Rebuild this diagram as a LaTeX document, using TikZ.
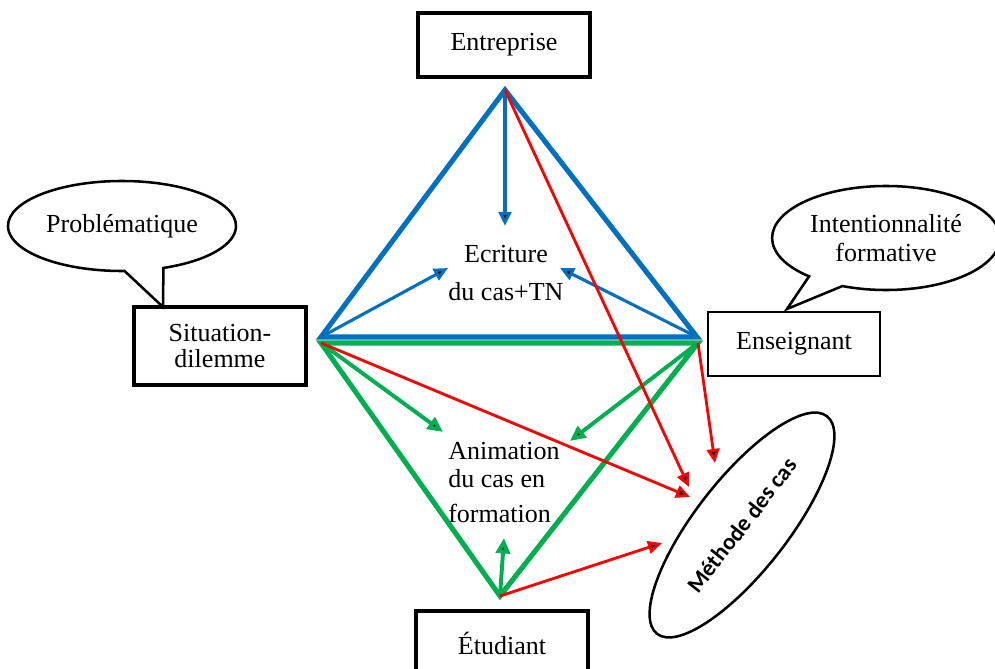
\documentclass[tikz,border=0pt]{standalone}
\usepackage{fontspec}
\setmainfont{Liberation Serif}
\newfontfamily\calibrifont{Carlito}
\usetikzlibrary{shapes.geometric,shapes.callouts,arrows.meta}
\definecolor{caseblue}{RGB}{0,112,192}
\definecolor{casegreen}{RGB}{0,176,80}
\definecolor{casered}{RGB}{255,0,0}

\begin{document}
\begin{tikzpicture}[x=0.025cm,y=-0.025cm,
        font=\fontsize{18.5}{22}\selectfont,
        main node/.style={rectangle,draw,line width=2.6pt,minimum width=4.3cm,minimum height=1.6cm,align=center},
        bubble/.style={ellipse callout,draw,line width=1.8pt,align=center,callout pointer arc=20},
        tip/.style={-{Triangle[length=10pt,width=9pt]}}]
    \useasboundingbox (0,0) rectangle (995,669);

    \node[main node] (1) at (504,45) {Entreprise};
    \node[main node,minimum height=1.95cm,font=\fontsize{18.5}{18}\selectfont] (2) at (220,346) {Situation-\\dilemme};
    \node[main node,line width=1.8pt] (3) at (794,344) {Enseignant};
    \node[main node,line width=2.2pt] (4) at (502,643) {Étudiant};

    \coordinate (p1) at (163,307);
    \coordinate (p2) at (787,309);
    \node[bubble,minimum width=5.7cm,minimum height=2.25cm,callout absolute pointer={(p1)}] (5) at (122,226) {Problématique};
    \node[bubble,minimum width=5.45cm,minimum height=2.6cm,font=\fontsize{18.5}{21}\selectfont,callout absolute pointer={(p2)}] (6) at (886,238) {Intentionnalité\\formative};

    \node[draw,ellipse,line width=1.8pt,rotate=52,minimum width=6.9cm,minimum height=2.3cm,font=\calibrifont\bfseries\fontsize{16.5}{19}\selectfont] (7) at (742,525) {Méthode des cas};

    \node[anchor=north,inner sep=0pt,align=center,font=\fontsize{18.5}{27}\selectfont] (8) at (506,245) {Ecriture\\du cas+TN};
    \node[anchor=north west,inner sep=0pt,align=left,font=\fontsize{18.5}{20}\selectfont] (9) at (448,442) {Animation\\du cas en\\[5pt]formation};

    % sommets
    \coordinate (a) at (505,90);
    \coordinate (lb) at (321,337);
    \coordinate (rb) at (697,337);
    \coordinate (lg) at (321,343);
    \coordinate (rg) at (698,343);
    \coordinate (b) at (500,596);

    % bouts des fleches
    \coordinate (e1) at (505,226);
    \coordinate (e2) at (448,268);
    \coordinate (e3) at (560,268);
    \coordinate (g1) at (443,432);
    \coordinate (g2) at (570,441);
    \coordinate (g3) at (504,538);
    \coordinate (m1) at (689,487);
    \coordinate (m2) at (715,463);
    \coordinate (m3) at (690,497);
    \coordinate (m4) at (662,543);

    \draw[caseblue,line width=3.6pt] (a) -- (lb) -- (rb) -- cycle;
    \path[draw=caseblue,line width=2.2pt]
    (a) edge[tip] node {} (e1)
    (lb) edge[tip] node {} (e2)
    (rb) edge[tip] node {} (e3);

    \draw[casegreen,line width=3.6pt] (lg) -- (b) -- (rg) -- cycle;
    \path[draw=casegreen,line width=2.8pt,every edge/.append style={-{Triangle[length=11pt,width=10pt]}}]
    (lg) edge node {} (g1)
    (rg) edge node {} (g2)
    (b) edge node {} (g3);

    \path[draw=casered,line width=2pt]
    (a) edge[tip] node {} (m1)
    (rg) edge[tip] node {} (m2)
    (lg) edge[tip] node {} (m3)
    (b) edge[tip] node {} (m4);
\end{tikzpicture}
\end{document}
